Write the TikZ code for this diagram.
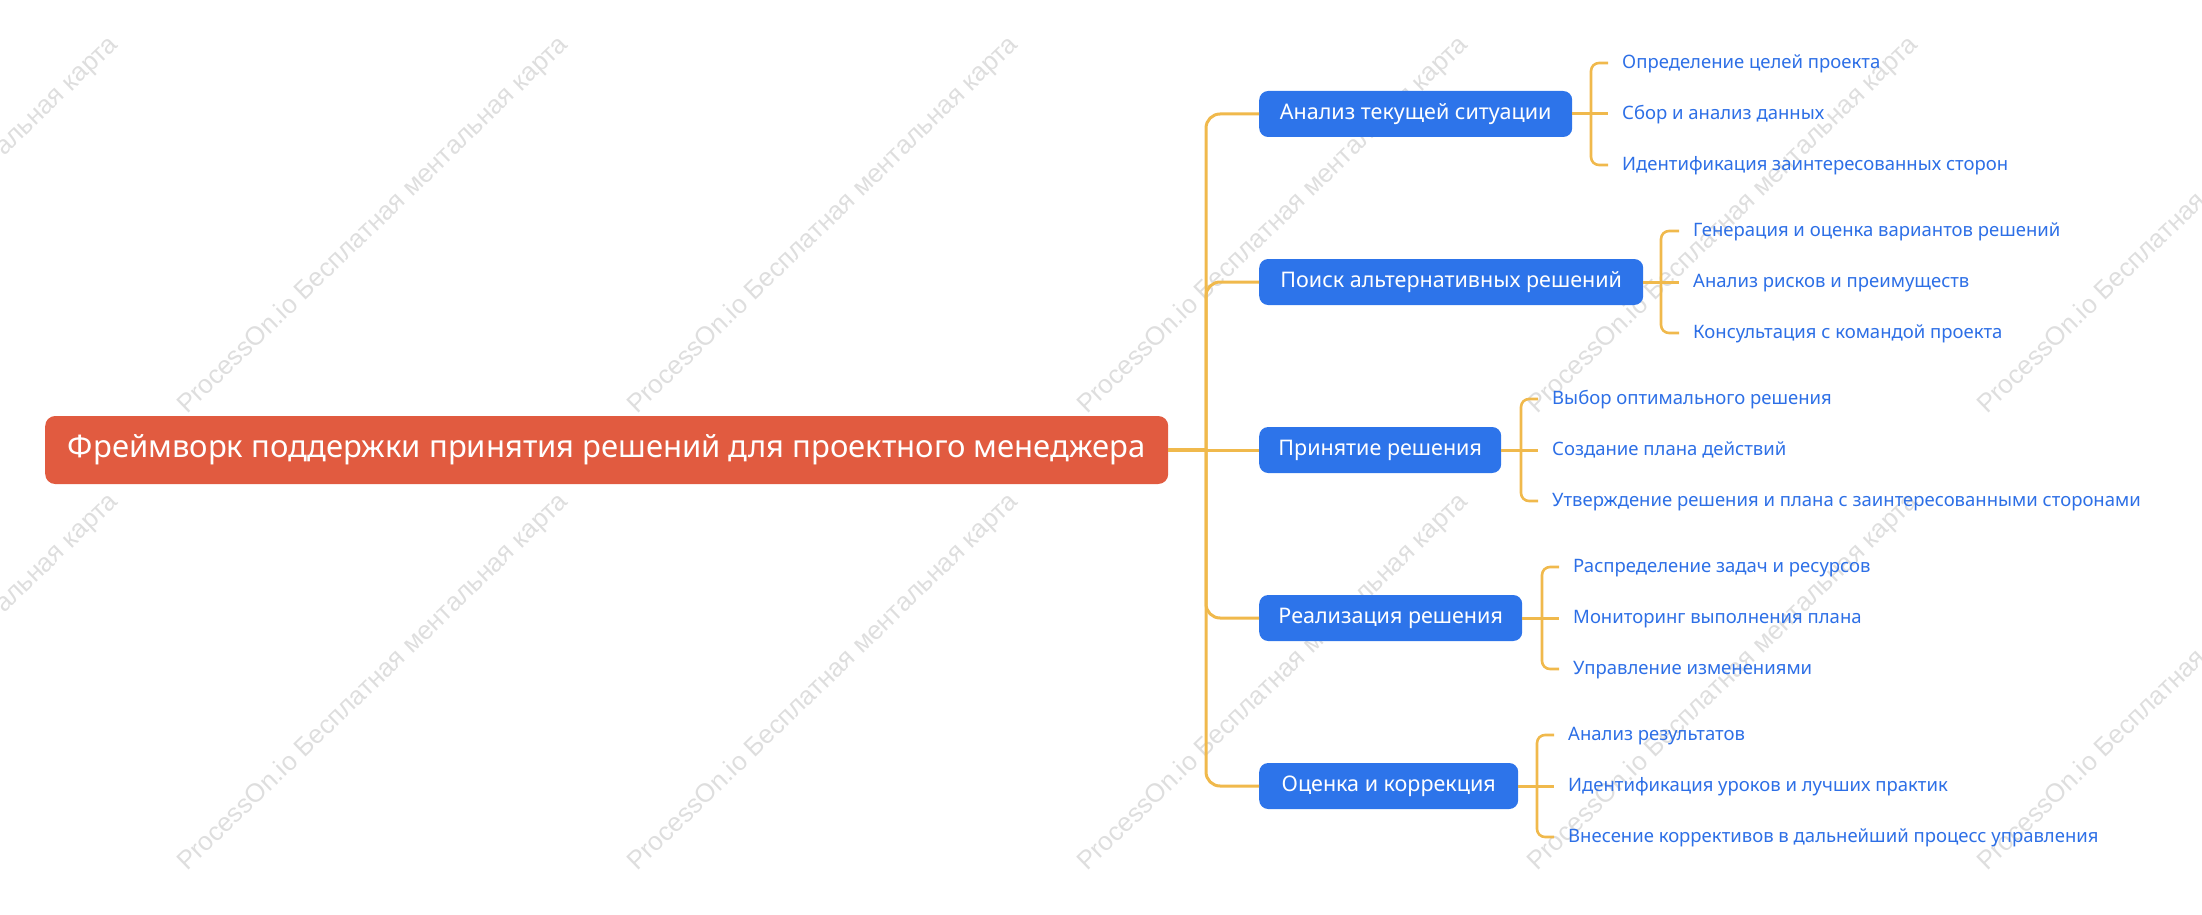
\documentclass[tikz,border=0pt]{standalone}
\usepackage{fontspec}
\setmainfont{Noto Sans}
\newfontfamily\wmfont{Liberation Sans}
\definecolor{rootred}{HTML}{E15B40}
\definecolor{nodeblue}{HTML}{2D74EA}
\definecolor{leafblue}{HTML}{2D6FE6}
\definecolor{linegold}{HTML}{F0B94C}
\definecolor{wmgray}{HTML}{DEDEDE}
\tikzset{
  rootbox/.style={fill=rootred, text=white, rounded corners=10pt, minimum height=68pt,
    minimum width=1123pt, inner xsep=0pt, inner ysep=0pt, font=\fontsize{31}{37}\selectfont, anchor=west},
  topicbox/.style={fill=nodeblue, text=white, rounded corners=9pt, minimum height=46pt,
    inner xsep=0pt, inner ysep=0pt, font=\fontsize{21.5}{26}\selectfont, anchor=west},
  leaf/.style={text=leafblue, inner xsep=14pt, inner ysep=0pt, font=\fontsize{18.5}{22}\selectfont,
    text height=13pt, text depth=2pt, anchor=west},
  conn/.style={draw=linegold, line width=3pt},
  rootconn/.style={draw=linegold, line width=4pt},
  brack/.style={draw=linegold, line width=2.6pt, rounded corners=8pt},
  wm/.style={text=wmgray, font=\wmfont\fontsize{26}{30}\selectfont, rotate=44, anchor=base west, inner sep=0pt}
}
\begin{document}
\begin{tikzpicture}[x=1pt,y=-1pt]
\useasboundingbox (0,0) rectangle (2202,915);
% watermarks
\foreach \y in {415,872}{
  \foreach \x in {-263,187,637,1087,1537,1987}{
    \node[wm] at (\x,\y) {ProcessOn.io Бесплатная ментальная карта};
  }
}
% root
\node[rootbox] (root) at (45,450) {Фреймворк поддержки принятия решений для проектного менеджера};
% topics
\node[topicbox, minimum width=313pt] (a1) at (1259,114) {Анализ текущей ситуации};
\node[topicbox, minimum width=384pt] (a2) at (1259,282) {Поиск альтернативных решений};
\node[topicbox, minimum width=242pt] (a3) at (1259,450) {Принятие решения};
\node[topicbox, minimum width=263pt] (a4) at (1259,618) {Реализация решения};
\node[topicbox, minimum width=259pt] (a5) at (1259,786) {Оценка и коррекция};
% trunk
\coordinate (tr) at (1206,450);
\draw[rootconn] (root.east) -- (tr);
\draw[conn] (tr) -- (a3.west);
\draw[conn, rounded corners=14pt] (tr) |- (a1.west);
\draw[conn, rounded corners=14pt] (tr) |- (a2.west);
\draw[conn, rounded corners=14pt] (tr) |- (a4.west);
\draw[conn, rounded corners=14pt] (tr) |- (a5.west);
% leaves group 1
\node[leaf] (l11) at (1608,63) {Определение целей проекта};
\node[leaf] (l12) at (1608,114) {Сбор и анализ данных};
\node[leaf] (l13) at (1608,165) {Идентификация заинтересованных сторон};
\coordinate (b1) at (1591,114);
% group 2
\node[leaf] (l21) at (1679,231) {Генерация и оценка вариантов решений};
\node[leaf] (l22) at (1679,282) {Анализ рисков и преимуществ};
\node[leaf] (l23) at (1679,333) {Консультация с командой проекта};
\coordinate (b2) at (1661,282);
% group 3
\node[leaf] (l31) at (1538,399) {Выбор оптимального решения};
\node[leaf] (l32) at (1538,450) {Создание плана действий};
\node[leaf] (l33) at (1538,501) {Утверждение решения и плана с заинтересованными сторонами};
\coordinate (b3) at (1521,450);
% group 4
\node[leaf] (l41) at (1559,567) {Распределение задач и ресурсов};
\node[leaf] (l42) at (1559,618) {Мониторинг выполнения плана};
\node[leaf] (l43) at (1559,669) {Управление изменениями};
\coordinate (b4) at (1542,618);
% group 5
\node[leaf] (l51) at (1554,735) {Анализ результатов};
\node[leaf] (l52) at (1554,786) {Идентификация уроков и лучших практик};
\node[leaf] (l53) at (1554,837) {Внесение коррективов в дальнейший процесс управления};
\coordinate (b5) at (1537,786);
\foreach \i in {1,...,5}{
  \draw[conn] (a\i.east) -- (l\i2.west);
  \draw[brack] (l\i1.west) -| (b\i) |- (l\i3.west);
}
\end{tikzpicture}
\end{document}
